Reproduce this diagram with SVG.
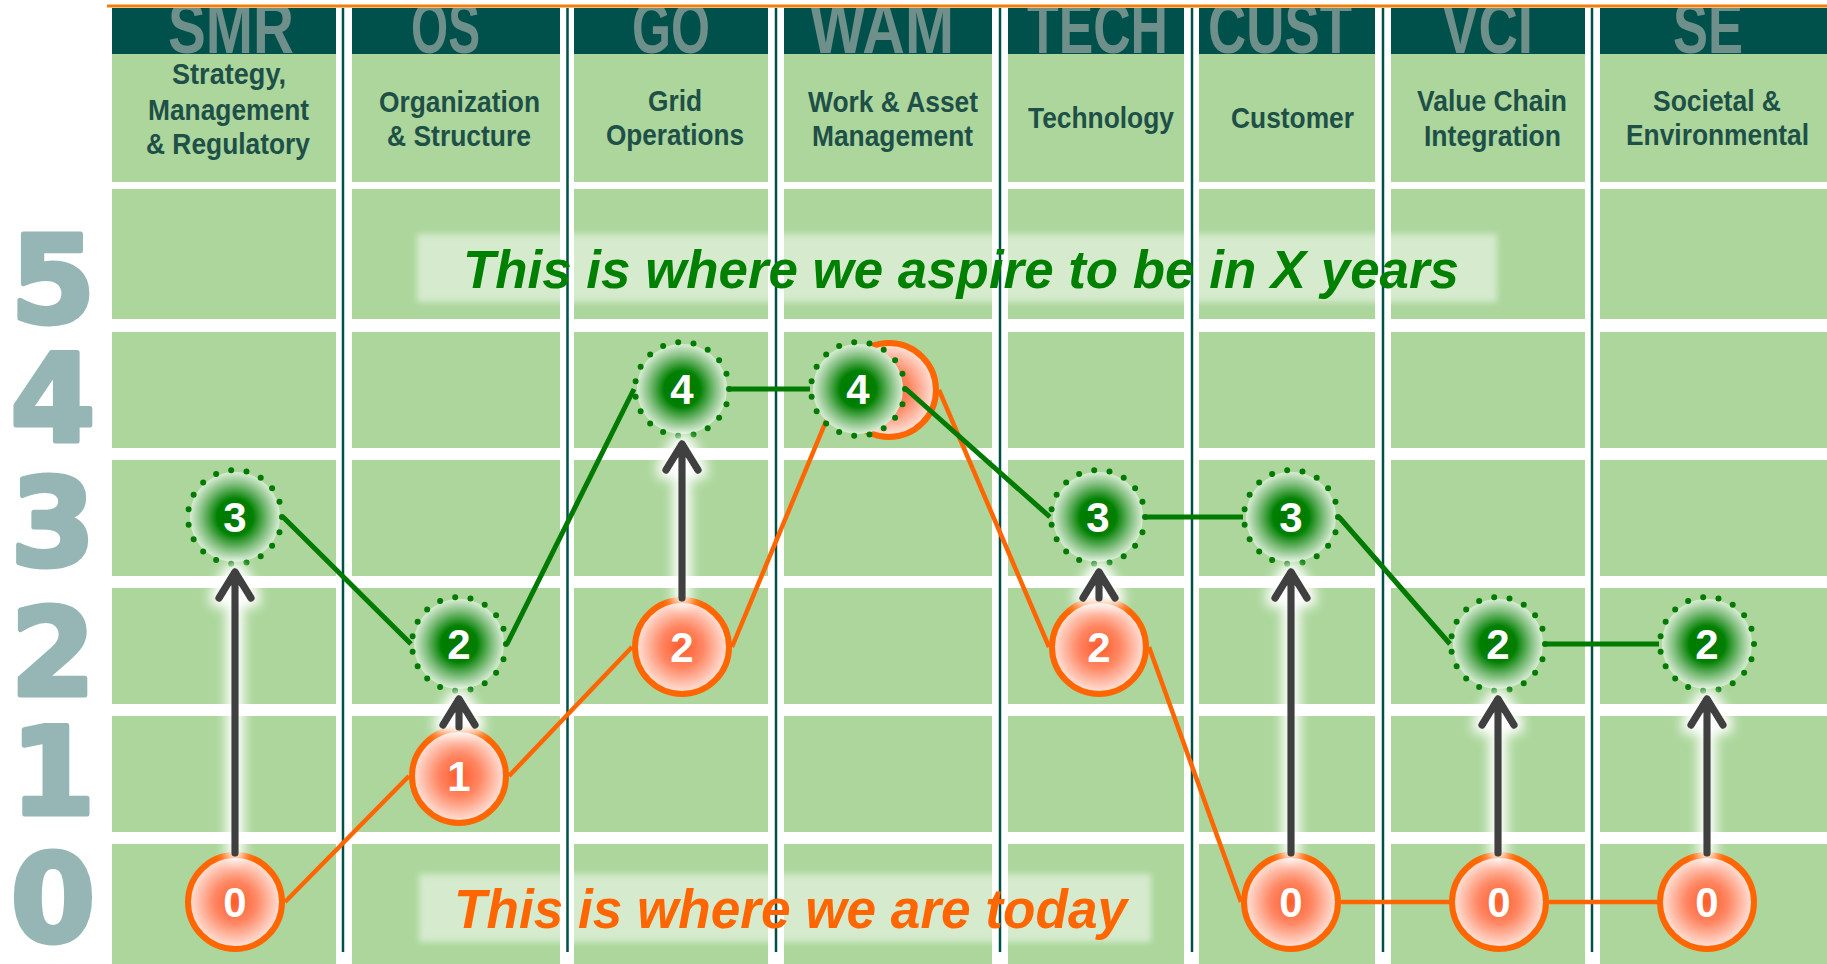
<svg xmlns="http://www.w3.org/2000/svg" width="1827" height="964" viewBox="0 0 1827 964">
<defs>
<style>
.cell{fill:#acd69c}
.band{fill:#00514b}
.gap{fill:#ffffff}
.div{stroke:#00504a;stroke-width:2.5;fill:none}
.abbr{font-family:"Liberation Sans",Arial,sans-serif;font-weight:bold;font-size:72px;fill:#6e8f8a}
.hd{font-family:"Liberation Sans Narrow","Liberation Sans",Arial,sans-serif;font-weight:bold;font-size:30px;fill:#1e5047}
.axis{font-family:"DejaVu Sans",sans-serif;font-weight:bold;font-size:122px;fill:#95b6b5;stroke:#95b6b5;stroke-width:5;stroke-linejoin:round;text-anchor:middle}
.num{font-family:"Liberation Sans",Arial,sans-serif;font-weight:bold;font-size:42px;fill:#ffffff;text-anchor:middle}
.banner{fill:#ffffff;fill-opacity:0.5}
.now-line{stroke:#ff6600;stroke-width:4.5;fill:none}
.goal-line{stroke:#007a00;stroke-width:5;fill:none}
.now{fill:url(#gNow);stroke:#ff6600;stroke-width:6}
.goal{fill:url(#gGoal)}
.ring{fill:none;stroke:#007a00;stroke-width:6;stroke-linecap:round;stroke-dasharray:0 1}
.arrow{stroke:#404040;stroke-width:7.5;fill:none;stroke-linecap:round;stroke-linejoin:round}
</style>
<radialGradient id="gGoal" cx="0.5" cy="0.5" r="0.5">
<stop offset="0" stop-color="#007600"/>
<stop offset="0.4" stop-color="#008000"/>
<stop offset="0.72" stop-color="#7cbc79"/>
<stop offset="1" stop-color="#d9edd5"/>
</radialGradient>
<radialGradient id="gNow" cx="0.5" cy="0.5" r="0.5">
<stop offset="0" stop-color="#ff5a2a"/>
<stop offset="0.45" stop-color="#ff8763"/>
<stop offset="1" stop-color="#ffe9e2"/>
</radialGradient>
<filter id="halo" filterUnits="userSpaceOnUse" x="0" y="0" width="1827" height="964">
<feMorphology in="SourceAlpha" operator="dilate" radius="5" result="d"/>
<feGaussianBlur in="d" stdDeviation="6" result="b"/>
<feFlood flood-color="#ffffff"/>
<feComposite in2="b" operator="in" result="g"/>
<feMerge><feMergeNode in="g"/><feMergeNode in="SourceGraphic"/></feMerge>
</filter>
<filter id="soft" x="-5%" y="-30%" width="110%" height="160%">
<feGaussianBlur stdDeviation="3"/>
</filter>
<clipPath id="bandClip"><rect x="0" y="8" width="1827" height="46"/></clipPath>
</defs>

<rect width="1827" height="964" fill="#ffffff"/>
<line x1="107" y1="6" x2="1827" y2="6" stroke="#f07f0a" stroke-width="3"/>

<!-- column backgrounds, header bands, row gaps -->
<g id="grid">
<rect class="cell" x="112" y="54" width="224" height="910"/>
<rect class="cell" x="352" y="54" width="208" height="910"/>
<rect class="cell" x="574" y="54" width="194" height="910"/>
<rect class="cell" x="784" y="54" width="208" height="910"/>
<rect class="cell" x="1008" y="54" width="176" height="910"/>
<rect class="cell" x="1199" y="54" width="176" height="910"/>
<rect class="cell" x="1391" y="54" width="194" height="910"/>
<rect class="cell" x="1600" y="54" width="227" height="910"/>
<rect class="band" x="112" y="8" width="224" height="46"/>
<rect class="band" x="352" y="8" width="208" height="46"/>
<rect class="band" x="574" y="8" width="194" height="46"/>
<rect class="band" x="784" y="8" width="208" height="46"/>
<rect class="band" x="1008" y="8" width="176" height="46"/>
<rect class="band" x="1199" y="8" width="176" height="46"/>
<rect class="band" x="1391" y="8" width="194" height="46"/>
<rect class="band" x="1600" y="8" width="227" height="46"/>
<rect class="gap" x="107" y="182" width="1720" height="7"/>
<rect class="gap" x="107" y="319" width="1720" height="13"/>
<rect class="gap" x="107" y="448" width="1720" height="12"/>
<rect class="gap" x="107" y="576" width="1720" height="12"/>
<rect class="gap" x="107" y="704" width="1720" height="12"/>
<rect class="gap" x="107" y="832" width="1720" height="12"/>
</g>

<!-- level labels -->
<g id="levels">
<text class="axis" x="53" y="322">5</text>
<text class="axis" x="53" y="441">4</text>
<text class="axis" x="53" y="565">3</text>
<text class="axis" x="53" y="695">2</text>
<text class="axis" x="53" y="814">1</text>
<text class="axis" x="53" y="941">0</text>
</g>

<!-- domain headers -->
<g id="headers">
<g clip-path="url(#bandClip)">
<text class="abbr" x="168" y="53" textLength="126" lengthAdjust="spacingAndGlyphs">SMR</text>
<text class="abbr" x="411" y="53" textLength="69" lengthAdjust="spacingAndGlyphs">OS</text>
<text class="abbr" x="632" y="53" textLength="78" lengthAdjust="spacingAndGlyphs">GO</text>
<text class="abbr" x="810" y="53" textLength="144" lengthAdjust="spacingAndGlyphs">WAM</text>
<text class="abbr" x="1027" y="53" textLength="141" lengthAdjust="spacingAndGlyphs">TECH</text>
<text class="abbr" x="1208" y="53" textLength="144" lengthAdjust="spacingAndGlyphs">CUST</text>
<text class="abbr" x="1442" y="53" textLength="91" lengthAdjust="spacingAndGlyphs">VCI</text>
<text class="abbr" x="1673" y="53" textLength="70" lengthAdjust="spacingAndGlyphs">SE</text>
</g>
<text class="hd" x="172" y="84" textLength="114" lengthAdjust="spacingAndGlyphs">Strategy,</text>
<text class="hd" x="148" y="120" textLength="161" lengthAdjust="spacingAndGlyphs">Management</text>
<text class="hd" x="146" y="154" textLength="164" lengthAdjust="spacingAndGlyphs">&amp; Regulatory</text>
<text class="hd" x="379" y="112" textLength="161" lengthAdjust="spacingAndGlyphs">Organization</text>
<text class="hd" x="387" y="146" textLength="144" lengthAdjust="spacingAndGlyphs">&amp; Structure</text>
<text class="hd" x="648" y="111" textLength="54" lengthAdjust="spacingAndGlyphs">Grid</text>
<text class="hd" x="606" y="145" textLength="138" lengthAdjust="spacingAndGlyphs">Operations</text>
<text class="hd" x="808" y="112" textLength="170" lengthAdjust="spacingAndGlyphs">Work &amp; Asset</text>
<text class="hd" x="812" y="146" textLength="161" lengthAdjust="spacingAndGlyphs">Management</text>
<text class="hd" x="1028" y="128" textLength="146" lengthAdjust="spacingAndGlyphs">Technology</text>
<text class="hd" x="1231" y="128" textLength="123" lengthAdjust="spacingAndGlyphs">Customer</text>
<text class="hd" x="1417" y="111" textLength="150" lengthAdjust="spacingAndGlyphs">Value Chain</text>
<text class="hd" x="1424" y="146" textLength="137" lengthAdjust="spacingAndGlyphs">Integration</text>
<text class="hd" x="1653" y="111" textLength="128" lengthAdjust="spacingAndGlyphs">Societal &amp;</text>
<text class="hd" x="1626" y="145" textLength="183" lengthAdjust="spacingAndGlyphs">Environmental</text>
</g>

<!-- caption panels -->
<g id="captions">
<rect class="banner" x="417" y="234" width="1080" height="68" filter="url(#soft)"/>
<rect class="banner" x="419" y="874" width="732" height="68" filter="url(#soft)"/>
</g>

<g id="dividers">
<path class="div" d="M343 8V952M567.5 8V952M776 8V952M1000 8V952M1192 8V952M1383 8V952M1592 8V952"/>
</g>

<g id="caption-text">
<text x="463" y="288" textLength="996" lengthAdjust="spacingAndGlyphs" font-family="Liberation Sans, Arial, sans-serif" font-weight="bold" font-style="italic" font-size="53" fill="#008000">This is where we aspire to be in X years</text>
<text x="454" y="928" textLength="673" lengthAdjust="spacingAndGlyphs" font-family="Liberation Sans, Arial, sans-serif" font-weight="bold" font-style="italic" font-size="55" fill="#ff6600">This is where we are today</text>
</g>

<!-- current-state path -->
<g id="connectors-now">
<path class="now-line" d="M285 902L409 776M509 776L632 647M732 647L839 390M939 390L1049 647M1149 647L1241 902M1341 902L1449 902M1549 902L1657 902"/>
</g>

<!-- current-state nodes -->
<g id="now-smr"><circle class="now" cx="235" cy="902" r="47"/><text class="num" x="235" y="917">0</text></g>
<g id="now-os"><circle class="now" cx="459" cy="776" r="47"/><text class="num" x="459" y="791">1</text></g>
<g id="now-go"><circle class="now" cx="682" cy="647" r="47"/><text class="num" x="682" y="662">2</text></g>
<g id="now-wam"><circle class="now" cx="889" cy="390" r="47"/></g>
<g id="now-tech"><circle class="now" cx="1099" cy="647" r="47"/><text class="num" x="1099" y="662">2</text></g>
<g id="now-cust"><circle class="now" cx="1291" cy="902" r="47"/><text class="num" x="1291" y="917">0</text></g>
<g id="now-vci"><circle class="now" cx="1499" cy="902" r="47"/><text class="num" x="1499" y="917">0</text></g>
<g id="now-se"><circle class="now" cx="1707" cy="902" r="47"/><text class="num" x="1707" y="917">0</text></g>

<!-- target-state path -->
<g id="connectors-goal">
<path class="goal-line" d="M283 517L411 644M507 644L634 389M730 389L810 389M906 389L1050 517M1146 517L1243 517M1339 517L1450 644M1546 644L1659 644"/>
</g>

<!-- target-state nodes -->
<g id="goal-smr"><circle class="goal" cx="235" cy="517" r="45"/><circle class="ring" cx="235" cy="517" r="47" pathLength="19"/><text class="num" x="235" y="532">3</text></g>
<g id="goal-os"><circle class="goal" cx="459" cy="644" r="45"/><circle class="ring" cx="459" cy="644" r="47" pathLength="19"/><text class="num" x="459" y="659">2</text></g>
<g id="goal-go"><circle class="goal" cx="682" cy="389" r="45"/><circle class="ring" cx="682" cy="389" r="47" pathLength="19"/><text class="num" x="682" y="404">4</text></g>
<g id="goal-wam"><circle class="goal" cx="858" cy="389" r="45"/><circle class="ring" cx="858" cy="389" r="47" pathLength="19"/><text class="num" x="858" y="404">4</text></g>
<g id="goal-tech"><circle class="goal" cx="1098" cy="517" r="45"/><circle class="ring" cx="1098" cy="517" r="47" pathLength="19"/><text class="num" x="1098" y="532">3</text></g>
<g id="goal-cust"><circle class="goal" cx="1291" cy="517" r="45"/><circle class="ring" cx="1291" cy="517" r="47" pathLength="19"/><text class="num" x="1291" y="532">3</text></g>
<g id="goal-vci"><circle class="goal" cx="1498" cy="644" r="45"/><circle class="ring" cx="1498" cy="644" r="47" pathLength="19"/><text class="num" x="1498" y="659">2</text></g>
<g id="goal-se"><circle class="goal" cx="1707" cy="644" r="45"/><circle class="ring" cx="1707" cy="644" r="47" pathLength="19"/><text class="num" x="1707" y="659">2</text></g>

<!-- improvement arrows -->
<g id="connectors-progress" class="arrow" filter="url(#halo)">
<path d="M235 853V574M219 598L235 572L251 598"/>
<path d="M459 727V701M443 725L459 699L475 725"/>
<path d="M682 598V446M666 470L682 444L698 470"/>
<path d="M1099 598V574M1083 598L1099 572L1115 598"/>
<path d="M1291 853V574M1275 598L1291 572L1307 598"/>
<path d="M1498 853V701M1482 725L1498 699L1514 725"/>
<path d="M1707 853V701M1691 725L1707 699L1723 725"/>
</g>
</svg>
